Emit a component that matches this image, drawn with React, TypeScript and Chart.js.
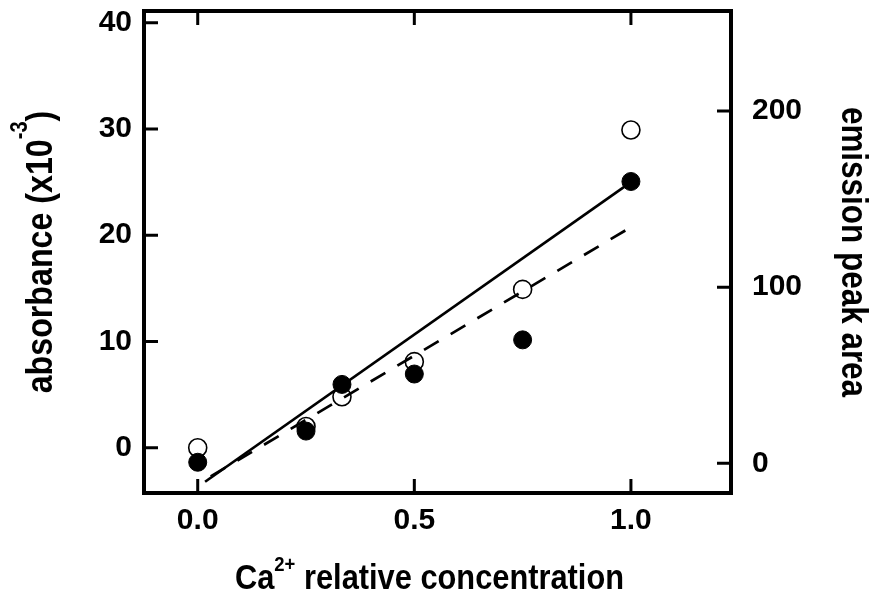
import React, { useEffect, useRef } from "react";
import { Chart, registerables } from "chart.js";

Chart.register(...registerables);

// ---- data ----
const concentration = [0, 0.25, 0.333, 0.5, 0.75, 1.0];
// open circles, left axis: absorbance (x10^-3)
const absorbance = [0, 2.0, 4.8, 8.1, 14.9, 29.9];
// filled circles, right axis: emission peak area
const emission = [0.6, 18.3, 44.8, 50.7, 70.1, 160];
// solid fit line (left axis)
const absorbanceFitX = [0.017, 1.0];
const absorbanceFitY = [-3.2, 25.0];
// dashed fit line (right axis)
const emissionFitX = [0.03, 0.99];
const emissionFitY = [-7.4, 132.6];
// ticks
const xTicks = [0, 0.5, 1.0];
const leftTicks = [0, 10, 20, 30, 40];
const rightTicks = [0, 100, 200];
// axis ranges
const xRange = [-0.124, 1.231];
const leftRange = [-4.26, 41.1];
const rightRange = [-16.85, 256.8];

const FONT = '"Liberation Sans", Arial, Helvetica, sans-serif';

type Part = { text: string; size: number; dy: number };

function drawRich(
  ctx: CanvasRenderingContext2D,
  parts: Part[],
  cx: number,
  cy: number,
  angle: number,
  sx: number
) {
  ctx.save();
  ctx.translate(cx, cy);
  ctx.rotate(angle);
  ctx.scale(sx, 1);
  ctx.textBaseline = "alphabetic";
  ctx.textAlign = "left";
  ctx.fillStyle = "#000";
  const widths = parts.map((p) => {
    ctx.font = `bold ${p.size}px ${FONT}`;
    return ctx.measureText(p.text).width;
  });
  const total = widths.reduce((a, b) => a + b, 0);
  let x = -total / 2;
  parts.forEach((p, i) => {
    ctx.font = `bold ${p.size}px ${FONT}`;
    ctx.fillText(p.text, x, p.dy);
    x += widths[i];
  });
  ctx.restore();
}

const framePlugin = {
  id: "frameAndTitles",
  beforeDatasetsDraw(chart: any) {
    const { ctx, chartArea: ca, scales } = chart;
    ctx.save();
    ctx.strokeStyle = "#000";
    ctx.lineWidth = 4;
    ctx.lineCap = "butt";
    ctx.strokeRect(ca.left, ca.top, ca.right - ca.left, ca.bottom - ca.top);
    ctx.lineWidth = 3;
    const len = 14;
    ctx.beginPath();
    xTicks.forEach((v) => {
      const px = scales.x.getPixelForValue(v);
      ctx.moveTo(px, ca.bottom);
      ctx.lineTo(px, ca.bottom - len);
      ctx.moveTo(px, ca.top);
      ctx.lineTo(px, ca.top + len);
    });
    leftTicks.forEach((v) => {
      const py = scales.y.getPixelForValue(v);
      ctx.moveTo(ca.left, py);
      ctx.lineTo(ca.left + len, py);
    });
    rightTicks.forEach((v) => {
      const py = scales.y2.getPixelForValue(v);
      ctx.moveTo(ca.right, py);
      ctx.lineTo(ca.right - len, py);
    });
    ctx.stroke();
    ctx.restore();
  },
  afterDraw(chart: any) {
    const { ctx, chartArea: ca } = chart;
    const midY = (ca.top + ca.bottom) / 2;
    // left title
    drawRich(
      ctx,
      [
        { text: "absorbance (x10", size: 37, dy: 0 },
        { text: "-3", size: 23, dy: -25 },
        { text: ")", size: 37, dy: 0 },
      ],
      ca.left - 92,
      midY,
      -Math.PI / 2,
      0.87
    );
    // right title
    drawRich(
      ctx,
      [{ text: "emission peak area", size: 37, dy: 0 }],
      ca.right + 111,
      midY,
      Math.PI / 2,
      0.85
    );
    // x title
    drawRich(
      ctx,
      [
        { text: "Ca", size: 35, dy: 0 },
        { text: "2+", size: 21, dy: -18 },
        { text: " relative concentration", size: 35, dy: 0 },
      ],
      (ca.left + ca.right) / 2 - 8,
      ca.bottom + 96,
      0,
      0.88
    );
  },
};

export default function App() {
  const ref = useRef<HTMLCanvasElement | null>(null);

  useEffect(() => {
    if (!ref.current) return;
    const tickFont = { family: FONT, size: 30, weight: "bold" as const };
    const chart = new Chart(ref.current, {
      type: "scatter",
      data: {
        datasets: [
          {
            label: "absorbance fit",
            data: absorbanceFitX.map((x, i) => ({ x, y: absorbanceFitY[i] })),
            yAxisID: "y",
            showLine: true,
            borderColor: "#000",
            borderWidth: 2.7,
            pointRadius: 0,
            fill: false,
          },
          {
            label: "emission fit",
            data: emissionFitX.map((x, i) => ({ x, y: emissionFitY[i] })),
            yAxisID: "y2",
            showLine: true,
            borderColor: "#000",
            borderWidth: 2.7,
            borderDash: [17, 14],
            pointRadius: 0,
            fill: false,
          },
          {
            label: "emission",
            data: concentration.map((x, i) => ({ x, y: emission[i] })),
            yAxisID: "y2",
            pointRadius: 9,
            pointBackgroundColor: "#000",
            pointBorderColor: "#000",
            pointBorderWidth: 1,
            showLine: false,
          },
          {
            label: "absorbance",
            data: concentration.map((x, i) => ({ x, y: absorbance[i] })),
            yAxisID: "y",
            pointRadius: 9,
            pointBackgroundColor: "#fff",
            pointBorderColor: "#000",
            pointBorderWidth: 1.6,
            showLine: false,
          },
        ],
      },
      options: {
        animation: false,
        responsive: false,
        layout: { padding: { top: 11, left: 0, right: 0, bottom: 0 } },
        plugins: {
          legend: { display: false },
          tooltip: { enabled: false },
          title: { display: false },
        },
        scales: {
          x: {
            type: "linear",
            position: "bottom",
            min: xRange[0],
            max: xRange[1],
            grid: { display: false, drawTicks: false },
            border: { display: false },
            afterBuildTicks: (s: any) => {
              s.ticks = xTicks.map((v) => ({ value: v }));
            },
            afterFit: (s: any) => {
              s.height = 105;
              s.paddingLeft = 0;
              s.paddingRight = 0;
            },
            ticks: {
              font: tickFont,
              color: "#000",
              padding: 10,
              maxRotation: 0,
              callback: (v: any) => Number(v).toFixed(1),
            },
          },
          y: {
            type: "linear",
            position: "left",
            min: leftRange[0],
            max: leftRange[1],
            grid: { display: false, drawTicks: false },
            border: { display: false },
            afterBuildTicks: (s: any) => {
              s.ticks = leftTicks.map((v) => ({ value: v }));
            },
            afterFit: (s: any) => {
              s.width = 144;
              s.paddingTop = 0;
              s.paddingBottom = 0;
            },
            ticks: {
              font: tickFont,
              color: "#000",
              padding: 12,
              callback: (v: any) => String(v),
            },
          },
          y2: {
            type: "linear",
            position: "right",
            min: rightRange[0],
            max: rightRange[1],
            grid: { display: false, drawTicks: false },
            border: { display: false },
            afterBuildTicks: (s: any) => {
              s.ticks = rightTicks.map((v) => ({ value: v }));
            },
            afterFit: (s: any) => {
              s.width = 138;
              s.paddingTop = 0;
              s.paddingBottom = 0;
            },
            ticks: {
              font: tickFont,
              color: "#000",
              padding: 21,
              callback: (v: any) => String(v),
            },
          },
        },
      },
      plugins: [framePlugin],
    });
    return () => chart.destroy();
  }, []);

  return (
    <div
      style={{
        position: "absolute",
        left: 0,
        top: 0,
        width: 869,
        height: 598,
        background: "#fff",
      }}
    >
      <canvas ref={ref} width={869} height={598} />
    </div>
  );
}
